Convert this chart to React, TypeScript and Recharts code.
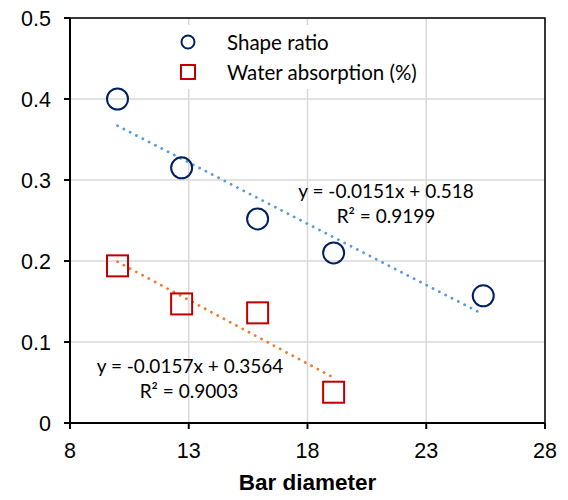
import React from 'react';
import {
  ScatterChart,
  Scatter,
  XAxis,
  YAxis,
  CartesianGrid,
  ReferenceLine,
  ReferenceArea,
  Legend,
} from 'recharts';

// bar diameters (mm) and measured values
const barDiameter = [10, 12.7, 15.9, 19.1, 25.4];
const shapeRatio = [0.4, 0.315, 0.252, 0.21, 0.157];
const absorptionDiameter = [10, 12.7, 15.9, 19.1];
const waterAbsorption = [0.194, 0.147, 0.136, 0.038];

// linear trendline end points
const shapeTrendX = [10, 25.4];
const shapeTrendY = [0.367, 0.134];
const absorptionTrendX = [10, 19.1];
const absorptionTrendY = [0.199, 0.056];

const xTicks = [8, 13, 18, 23, 28];
const xMinor = [9, 10, 11, 12, 14, 15, 16, 17, 19, 20, 21, 22, 24, 25, 26, 27];
const yTicks = [0, 0.1, 0.2, 0.3, 0.4, 0.5];

const shapeData = barDiameter.map((x, i) => ({ x, y: shapeRatio[i] }));
const absorptionData = absorptionDiameter.map((x, i) => ({ x, y: waterAbsorption[i] }));

const tickFont = { fill: '#000', fontSize: 21.5, fontFamily: 'Liberation Sans, Arial, sans-serif' };
const noteFont = 'Lato, sans-serif';

const Ring = (p: any) => (
  <circle cx={p.cx} cy={p.cy} r={10.5} fill="none" stroke="#002060" strokeWidth={2} />
);
const Box = (p: any) => (
  <rect x={p.cx - 10.5} y={p.cy - 10.5} width={21} height={21} fill="none" stroke="#c00000" strokeWidth={2} />
);

const LegendBox = () => (
  <div style={{ background: '#fff', fontFamily: noteFont, fontSize: 20.5, color: '#000', padding: '2px 8px', lineHeight: '30px' }}>
    <div style={{ display: 'flex', alignItems: 'center' }}>
      <svg width={16} height={16} style={{ marginRight: 31 }}>
        <circle cx={8} cy={8} r={6.5} fill="none" stroke="#002060" strokeWidth={2} />
      </svg>
      Shape ratio
    </div>
    <div style={{ display: 'flex', alignItems: 'center' }}>
      <svg width={16} height={16} style={{ marginRight: 31 }}>
        <rect x={1} y={1} width={14} height={14} fill="none" stroke="#c00000" strokeWidth={2} />
      </svg>
      Water absorption (%)
    </div>
  </div>
);

const dotted = { strokeWidth: 2.8, strokeDasharray: '0.1 7', strokeLinecap: 'round' as const };

export default function App() {
  return (
    <div style={{ position: 'absolute', left: 0, top: 0, width: 568, height: 500, background: '#fff' }}>
      <ScatterChart width={568} height={500} margin={{ top: 18, right: 23, bottom: 0, left: 0 }}>
        <CartesianGrid xAxisId="minor" horizontal={false} stroke="#efefef" strokeWidth={1.5} />
        <CartesianGrid stroke="#d9d9d9" strokeWidth={1.5} />
        <XAxis xAxisId="minor" type="number" dataKey="x" domain={[8, 28]} ticks={xMinor} hide />
        <XAxis
          type="number"
          dataKey="x"
          domain={[8, 28]}
          ticks={xTicks}
          tick={tickFont}
          tickSize={6}
          tickMargin={14}
          height={77}
          stroke="#000"
          strokeWidth={2}
          label={{
            value: 'Bar diameter',
            position: 'insideBottom',
            offset: 10,
            style: { fill: '#000', fontSize: 22.5, fontWeight: 'bold', fontFamily: 'Liberation Sans, Arial, sans-serif' },
          }}
        />
        <YAxis
          type="number"
          dataKey="y"
          domain={[0, 0.5]}
          ticks={yTicks}
          tick={tickFont}
          tickFormatter={(v: number) => (v === 0 ? '0' : v.toFixed(1))}
          tickSize={6}
          tickMargin={13}
          width={70}
          stroke="#000"
          strokeWidth={2}
        />
        <ReferenceArea x1={8} x2={28} y1={0} y2={0.5} fill="none" stroke="#000" strokeWidth={1.5} />
        <Legend
          layout="vertical"
          align="center"
          verticalAlign="middle"
          wrapperStyle={{ position: 'absolute', left: 172, top: 25, width: 'auto' }}
          content={<LegendBox />}
        />
        <Scatter name="Shape ratio" data={shapeData} shape={Ring} isAnimationActive={false} />
        <Scatter name="Water absorption (%)" data={absorptionData} shape={Box} isAnimationActive={false} />
        <ReferenceLine
          segment={[
            { x: shapeTrendX[0], y: shapeTrendY[0] },
            { x: shapeTrendX[1], y: shapeTrendY[1] },
          ]}
          stroke="#5b9bd5"
          {...dotted}
        />
        <ReferenceLine
          segment={[
            { x: absorptionTrendX[0], y: absorptionTrendY[0] },
            { x: absorptionTrendX[1], y: absorptionTrendY[1] },
          ]}
          stroke="#ed7d31"
          {...dotted}
        />
        <text x={386} y={198} textAnchor="middle" fontFamily={noteFont} fontSize={19} fill="#000">
          y = -0.0151x + 0.518
        </text>
        <text x={386} y={223} textAnchor="middle" fontFamily={noteFont} fontSize={19} fill="#000">
          R² = 0.9199
        </text>
        <text x={190} y={373} textAnchor="middle" fontFamily={noteFont} fontSize={19} fill="#000">
          y = -0.0157x + 0.3564
        </text>
        <text x={189} y={398} textAnchor="middle" fontFamily={noteFont} fontSize={19} fill="#000">
          R² = 0.9003
        </text>
      </ScatterChart>
    </div>
  );
}
